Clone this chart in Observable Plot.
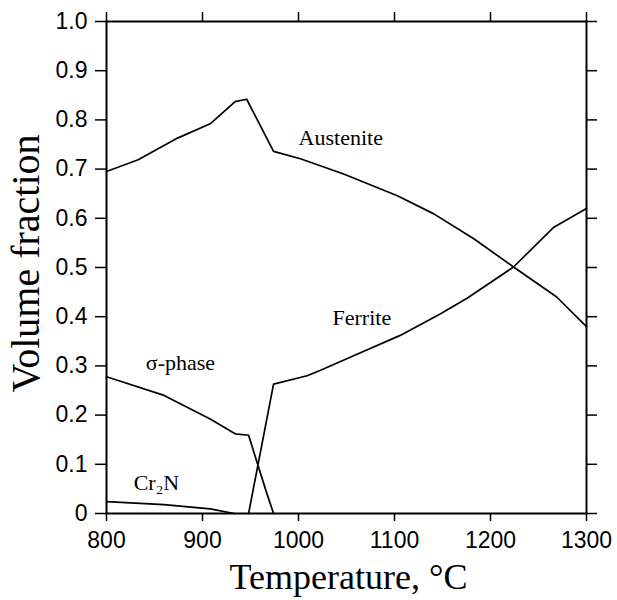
<!DOCTYPE html>
<html>
<head>
<meta charset="utf-8">
<script src="https://cdn.jsdelivr.net/npm/d3@7"></script>
<script src="https://cdn.jsdelivr.net/npm/@observablehq/plot@0.6"></script>
<style>
  html, body { margin: 0; padding: 0; background: #fff; }
</style>
</head>
<body>
<div id="chart"></div>
<script>
// Austenite
const austT = [800, 833, 874, 908, 934, 946, 974, 1002, 1047, 1103, 1141, 1183, 1224, 1269, 1300];
const austV = [0.695, 0.719, 0.763, 0.792, 0.837, 0.842, 0.736, 0.721, 0.690, 0.646, 0.609, 0.558, 0.501, 0.440, 0.380];
// Ferrite
const ferT = [948, 974, 1009, 1023, 1058, 1106, 1148, 1176, 1224, 1266, 1300];
const ferV = [0, 0.263, 0.280, 0.291, 0.321, 0.362, 0.406, 0.438, 0.501, 0.582, 0.620];
// Sigma phase
const sigT = [800, 860, 908, 934, 948, 966, 974];
const sigV = [0.278, 0.240, 0.192, 0.162, 0.159, 0.047, 0];
// Cr2N
const crT = [800, 860, 908, 933];
const crV = [0.024, 0.018, 0.0095, 0];

// labels
const labelNames = ["Austenite", "Ferrite", "σ-phase", "Cr₂N"];
const labelT = [1044, 1066, 877, 852];
const labelV = [0.764, 0.398, 0.305, 0.063];

const xTicks = [800, 900, 1000, 1100, 1200, 1300];
const yTicks = [0, 0.1, 0.2, 0.3, 0.4, 0.5, 0.6, 0.7, 0.8, 0.9, 1.0];

const mk = (T, V, name) => T.map((t, i) => ({t, v: V[i], name}));
const series = [
  ...mk(austT, austV, "Austenite"),
  ...mk(ferT, ferV, "Ferrite"),
  ...mk(sigT, sigV, "Sigma"),
  ...mk(crT, crV, "Cr2N")
];
const labels = labelNames.map((n, i) => ({n, t: labelT[i], v: labelV[i]}));

const sans = "'Liberation Sans', Arial, Helvetica, sans-serif";
const serif = "'Liberation Serif', 'Times New Roman', serif";

const chart = Plot.plot({
  width: 617,
  height: 600,
  marginLeft: 106,
  marginRight: 31,
  marginTop: 21,
  marginBottom: 87,
  style: {fontFamily: sans, fontSize: "23px", color: "#000", background: "#fff", overflow: "visible"},
  x: {domain: [800, 1300]},
  y: {domain: [0, 1]},
  marks: [
    Plot.axisX({anchor: "bottom", ticks: xTicks, tickSize: 8, tickPadding: 10, tickFormat: d => String(d), label: null, strokeWidth: 1.5, fontSize: 23}),
    Plot.axisX({anchor: "top", ticks: xTicks, tickSize: 10, tickFormat: () => "", label: null, strokeWidth: 1.5}),
    Plot.axisY({anchor: "left", ticks: yTicks, tickSize: 11, tickPadding: 8, tickFormat: d => d === 0 ? "0" : d.toFixed(1), label: null, strokeWidth: 1.5, fontSize: 23}),
    Plot.axisY({anchor: "right", ticks: yTicks, tickSize: 10, tickFormat: () => "", label: null, strokeWidth: 1.5}),
    Plot.frame({stroke: "#000", strokeWidth: 2}),
    Plot.line(series, {x: "t", y: "v", z: "name", stroke: "#000", strokeWidth: 1.7}),
    Plot.text(labels, {x: "t", y: "v", text: "n", fontFamily: serif, fontSize: 22, fill: "#000"}),
    Plot.text(["Temperature, °C"], {frameAnchor: "bottom", lineAnchor: "middle", textAnchor: "middle", dx: 2, dy: 64, fontFamily: serif, fontSize: 36, fill: "#000"}),
    Plot.text(["Volume fraction"], {frameAnchor: "left", rotate: -90, textAnchor: "middle", lineAnchor: "middle", dx: -80, dy: -4, fontFamily: serif, fontSize: 40, fill: "#000"})
  ]
});
document.getElementById("chart").appendChild(chart);
</script>
</body>
</html>
